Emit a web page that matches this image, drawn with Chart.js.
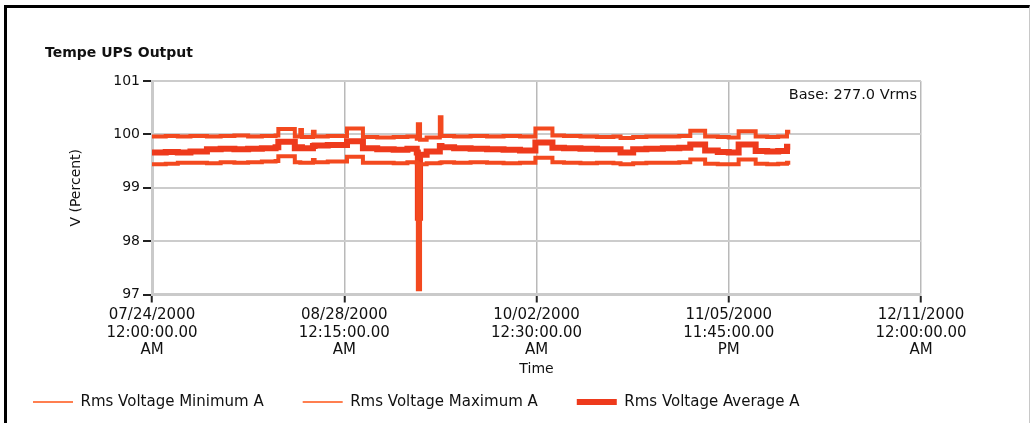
<!DOCTYPE html>
<html>
<head>
<meta charset="utf-8">
<title>Tempe UPS Output</title>
<script src="https://cdn.jsdelivr.net/npm/chart.js@4/dist/chart.umd.min.js"></script>
<style>
  html, body { margin: 0; padding: 0; background: #fff; overflow: hidden; }
  #frame {
    position: absolute; left: 4px; top: 5px; width: 1022px; height: 430px;
    border-left: 3px solid #000; border-top: 3px solid #000; border-right: 1px solid #c8c8c8;
  }
  #chartBox { position: absolute; left: 0; top: 0; width: 1035px; height: 423px; }
</style>
</head>
<body>
<div id="frame"></div>
<div id="chartBox"><canvas id="upsChart"></canvas></div>
<script>
// Tempe UPS output, rms voltage as percent of base (277.0 Vrms)

const chartTitle = "Tempe UPS Output";
const baseNote = "Base: 277.0 Vrms";

// x positions in days since 07/24/2000 12:00 AM (each value holds until the next day)
const days = [0, 2.5, 4.7, 7, 10, 12.5, 15, 17.5, 20, 22.5, 23, 26, 27, 27.3, 29.3, 29.6, 32,
  35.5, 38.4, 41, 44, 46.5, 48.2, 48.4, 48.8, 50, 52.4, 52.7, 55, 58, 61, 64, 67, 69.8, 72.9,
  75, 78, 81, 84, 85.3, 87.6, 90, 93, 96, 98, 100.7, 103, 105, 106.8, 109.9, 112, 114, 115.6, 116.2];

const rmsMax = [99.96, 99.97, 99.96, 99.97, 99.96, 99.97, 99.98, 99.96, 99.97, 99.98, 100.10, 99.96, 100.08, 99.95, 100.05, 99.96, 99.97,
  100.11, 99.95, 99.94, 99.95, 99.96, 99.92, 100.19, 99.90, 99.94, 100.32, 99.97, 99.96, 99.97, 99.96, 99.97, 99.96, 100.11, 99.98,
  99.97, 99.96, 99.95, 99.96, 99.93, 99.95, 99.96, 99.96, 99.97, 100.07, 99.96, 99.95, 99.94, 100.06, 99.96, 99.95, 99.96, 100.05, 100.05];

const rmsAvg = [99.66, 99.67, 99.66, 99.68, 99.72, 99.73, 99.72, 99.73, 99.74, 99.76, 99.86, 99.74, 99.76, 99.74, 99.78, 99.79, 99.80,
  99.87, 99.74, 99.72, 99.71, 99.73, 99.66, 98.44, 99.62, 99.68, 99.78, 99.76, 99.74, 99.73, 99.72, 99.71, 99.70, 99.85, 99.75,
  99.74, 99.73, 99.72, 99.72, 99.66, 99.72, 99.73, 99.74, 99.75, 99.81, 99.70, 99.67, 99.66, 99.81, 99.69, 99.68, 99.69, 99.77, 99.77];

const rmsMin = [99.44, 99.45, 99.47, 99.47, 99.46, 99.48, 99.47, 99.48, 99.49, 99.50, 99.59, 99.48, 99.47, 99.47, 99.52, 99.48, 99.49,
  99.58, 99.47, 99.47, 99.46, 99.48, 99.46, 97.10, 99.44, 99.46, 99.47, 99.48, 99.47, 99.48, 99.47, 99.46, 99.47, 99.56, 99.48,
  99.47, 99.46, 99.47, 99.46, 99.44, 99.46, 99.47, 99.47, 99.48, 99.53, 99.45, 99.44, 99.44, 99.53, 99.45, 99.44, 99.45, 99.47, 99.47];

const seriesNames = ["Rms Voltage Minimum A", "Rms Voltage Maximum A", "Rms Voltage Average A"];

// tick labels for the x axis (one every 35 days)
const xTickLabels = [
  ["07/24/2000", "12:00:00.00", "AM"],
  ["08/28/2000", "12:15:00.00", "AM"],
  ["10/02/2000", "12:30:00.00", "AM"],
  ["11/05/2000", "11:45:00.00", "PM"],
  ["12/11/2000", "12:00:00.00", "AM"]
];

const toPoints = vals => vals.map((v, i) => ({ x: days[i], y: v }));

// Draws the chart heading and the base note inside the plot
const textPlugin = {
  id: "extraText",
  afterDraw(chart) {
    const c = chart.ctx;
    const area = chart.chartArea;
    c.save();
    c.fillStyle = "#111";
    c.textBaseline = "middle";
    c.font = "bold 14px 'DejaVu Sans'";
    c.textAlign = "left";
    c.fillText(chartTitle, 45, 53);
    c.font = "14.5px 'DejaVu Sans'";
    c.textAlign = "right";
    c.fillText(baseNote, area.right - 4, 95);
    c.restore();
  }
};

const ctx = document.getElementById("upsChart").getContext("2d");

const chart = new Chart(ctx, {
  type: "line",
  data: {
    datasets: [
      { label: seriesNames[0], data: toPoints(rmsMin), borderColor: "#f3491f", borderWidth: 4 },
      { label: seriesNames[1], data: toPoints(rmsMax), borderColor: "#f3491f", borderWidth: 4 },
      { label: seriesNames[2], data: toPoints(rmsAvg), borderColor: "#ee3a1c", borderWidth: 6 }
    ]
  },
  options: {
    responsive: true,
    maintainAspectRatio: false,
    animation: false,
    // left is pulled in so the legend starts where the original one does
    layout: { padding: { top: 81, left: -6, right: 114, bottom: 3.5 } },
    elements: {
      point: { radius: 0 },
      line: { stepped: true, tension: 0 }
    },
    plugins: {
      title: { display: false },
      tooltip: { enabled: false },
      legend: {
        position: "bottom",
        align: "start",
        labels: {
          usePointStyle: true,
          pointStyle: "line",
          pointStyleWidth: 40,
          padding: 39,
          color: "#111",
          font: { family: "DejaVu Sans", size: 15 },
          generateLabels(chart) {
            const items = Chart.defaults.plugins.legend.labels.generateLabels(chart);
            return items.map(item => {
              const isAvg = item.datasetIndex === 2;
              item.pointStyle = "line";
              item.strokeStyle = isAvg ? "#ee3a1c" : "#ff7f50";
              item.lineWidth = isAvg ? 6 : 2;
              return item;
            });
          }
        }
      }
    },
    scales: {
      x: {
        type: "linear",
        min: 0,
        max: 140,
        afterFit(scale) { scale.height = 61; },
        ticks: {
          stepSize: 35,
          autoSkip: false,
          maxRotation: 0,
          padding: 4,
          color: "#111",
          font: { family: "DejaVu Sans", size: 15, lineHeight: 1.17 },
          callback: (value) => xTickLabels[Math.round(value / 35)]
        },
        grid: { color: "#b9b9b9", lineWidth: 1.5, tickColor: "#222", tickWidth: 2, tickLength: 8 },
        border: { color: "#cacaca", width: 3 },
        title: {
          display: true,
          text: "Time",
          color: "#111",
          font: { family: "DejaVu Sans", size: 14 },
          padding: { top: 0, bottom: -21.9 }
        }
      },
      y: {
        min: 97,
        max: 101,
        afterFit(scale) { scale.width = 158; },
        ticks: {
          stepSize: 1,
          padding: 3,
          color: "#111",
          font: { family: "DejaVu Sans", size: 14 }
        },
        grid: { color: "#cccccc", lineWidth: 2, tickColor: "#222", tickWidth: 2, tickLength: 9 },
        border: { color: "#cacaca", width: 3 },
        title: {
          display: true,
          text: "V (Percent)",
          color: "#111",
          font: { family: "DejaVu Sans", size: 14 },
          padding: { top: 73.6, bottom: 0 }
        }
      }
    }
  },
  plugins: [textPlugin]
});
</script>
</body>
</html>
